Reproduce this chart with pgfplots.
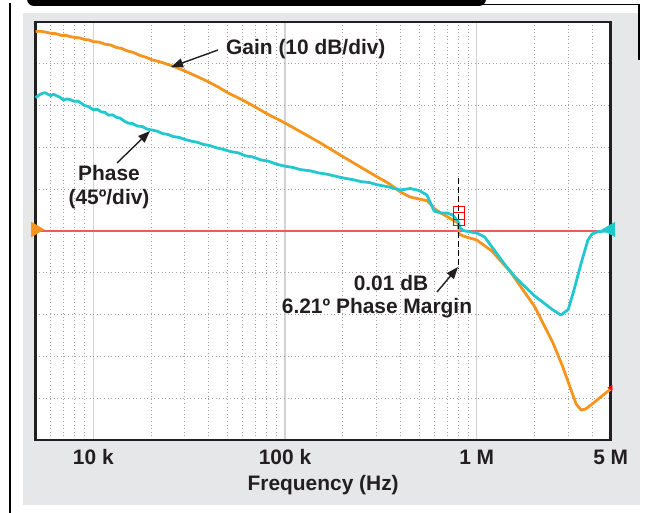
\documentclass[border=0pt]{standalone}
\usepackage{pgfplots}
\pgfplotsset{compat=1.18}
\usepackage{fontspec}
\setmainfont{Liberation Sans}
\usetikzlibrary{arrows.meta}
\definecolor{gainc}{HTML}{F7941D}
\definecolor{phasec}{HTML}{22C8CE}
\definecolor{redl}{HTML}{F15A5A}
\definecolor{panel}{HTML}{E6E7E8}
\definecolor{ink}{HTML}{231F20}
\definecolor{gridc}{HTML}{9FA1A4}
\definecolor{decc}{HTML}{D0D2D3}
\newcommand{\lbl}{\fontsize{21}{25}\selectfont\bfseries}

\pgfplotstableread{
f g
5000 4.773
5300 4.78
5600 4.76
6000 4.73
6400 4.72
6800 4.68
7200 4.68
7600 4.65
8000 4.63
8500 4.62
9000 4.58
9500 4.57
10000 4.53
10700 4.52
11500 4.47
12300 4.45
13200 4.39
14000 4.37
15000 4.31
16200 4.27
17500 4.20
19000 4.15
20000 4.103
22500 4.04
25000 3.971
27500 3.90
30000 3.828
35000 3.69
40000 3.565
45000 3.44
50000 3.313
60000 3.134
70000 2.967
80000 2.811
100000 2.584
120000 2.380
150000 2.129
200000 1.782
250000 1.519
300000 1.304
350000 1.129
400000 0.933
450000 0.813
500000 0.766
550000 0.725
580000 0.622
600000 0.538
650000 0.431
700000 0.347
750000 0.263
800000 0.191
810000 -0.072
850000 -0.120
900000 -0.156
1000000 -0.215
1200000 -0.48
1500000 -0.98
2000000 -1.80
2500000 -2.679
2800000 -3.23
3000000 -3.612
3300000 -4.139
3500000 -4.282
3700000 -4.258
4000000 -4.139
4500000 -3.947
5000000 -3.780
}\gaintable

\pgfplotstableread{
f p
5000 3.19
5200 3.25
5400 3.29
5600 3.31
5800 3.27
6000 3.24
6200 3.27
6400 3.24
6700 3.20
7000 3.13
7300 3.16
7600 3.14
8000 3.10
8300 3.11
8700 3.05
9000 3.00
9400 2.98
10000 2.90
10500 2.91
11000 2.85
11500 2.84
12000 2.77
12600 2.78
13200 2.72
13800 2.70
14500 2.63
15200 2.58
16000 2.57
17000 2.51
18000 2.50
19000 2.44
20000 2.42
21500 2.39
23000 2.33
24500 2.31
26000 2.26
28000 2.24
30000 2.19
32500 2.15
35000 2.12
37500 2.07
40000 2.05
44000 1.99
48000 1.95
52000 1.90
57000 1.87
62000 1.80
68000 1.77
75000 1.70
82000 1.67
90000 1.60
100000 1.55
110000 1.52
120000 1.47
135000 1.44
150000 1.39
165000 1.36
180000 1.32
200000 1.27
225000 1.23
250000 1.18
275000 1.16
300000 1.11
350000 1.05
400000 0.981
450000 1.017
500000 0.969
550000 0.861
580000 0.622
600000 0.478
650000 0.431
700000 0.431
750000 0.383
800000 0.215
820000 0.072
850000 0.012
900000 -0.012
1000000 -0.048
1100000 -0.144
1200000 -0.38
1400000 -0.80
1600000 -1.12
2000000 -1.55
2500000 -1.890
2750000 -2.010
3000000 -1.88
3200000 -1.45
3500000 -0.78
3800000 -0.22
4000000 -0.07
4300000 -0.012
5000000 0
}\phasetable

\begin{document}
\begin{tikzpicture}[x=1bp,y=1bp]
\path[use as bounding box] (0,0) rectangle (651,-513);
\fill[white] (0,0) rectangle (651,-513);
\fill[panel] (23,-13) rectangle (640,-505);
\fill[black,rounded corners=7bp] (27,12) -- (27,-6) -- (486,-6) -- (486,12) -- cycle;
\draw[line width=1.1bp] (480,-4.5) -- (639,-4.5) -- (639,-60);
\draw[line width=1.1bp] (10,-3) -- (10,-513);

\begin{axis}[
  at={(35.6bp,-440bp)}, anchor=south west, scale only axis,
  width=575.1bp, height=418bp,
  xmode=log, xmin=5000, xmax=5000000, ymin=-5, ymax=5,
  axis background/.style={fill=white},
  xtick={10000,100000,1000000,5000000},
  xticklabels={10 k,100 k,1 M,5 M},
  minor xtick={6000,7000,8000,9000,20000,30000,40000,50000,60000,70000,80000,90000,200000,300000,400000,500000,600000,700000,800000,900000,2000000,3000000,4000000},
  ytick={-4,-3,-2,-1,1,2,3,4}, yticklabels={},
  xmajorgrids, xminorgrids, ymajorgrids,
  major x grid style={color=decc, line width=1.3bp, solid},
  minor x grid style={color=gridc, line width=0.9bp, dash pattern=on 1bp off 2.6bp},
  major y grid style={color=gridc, line width=0.9bp, dash pattern=on 1bp off 2.6bp},
  major tick length=0pt, minor tick length=0pt,
  axis line style={line width=2.6bp, color=ink},
  xticklabel style={font=\lbl, text=ink, anchor=base, yshift=-24bp},
  xlabel={Frequency (Hz)},
  xlabel style={font=\lbl, text=ink, at={(axis description cs:0.5,0)}, anchor=base, yshift=-50bp},
  clip=false,
]
\addplot[redl, line width=1.6bp] coordinates {(5000,0) (5000000,0)};
\addplot[gainc, line width=2.8bp, line join=round] table[x=f, y=g] {\gaintable};
\addplot[phasec, line width=2.8bp, line join=round] table[x=f, y=p] {\phasetable};
\addplot[black, line width=1.4bp, dash pattern=on 6bp off 3bp] coordinates {(805000,1.27) (805000,-0.89)};
\addplot[only marks, mark=square, mark size=3.2bp, red, line width=0.8bp, mark options={xscale=1.7}] coordinates {(805000,0.52) (805000,0.36) (805000,0.20)};
\addplot[only marks, mark=triangle*, mark size=8.5bp, gainc, mark options={rotate=-90, xshift=-1.5bp}] coordinates {(5000,0)};
\addplot[only marks, mark=triangle*, mark size=8.5bp, phasec, mark options={rotate=90, xshift=1.5bp}] coordinates {(5000000,0)};
\addplot[only marks, mark=triangle*, mark size=3bp, red, mark options={rotate=90}] coordinates {(5000000,-3.75)};
\end{axis}

\node[anchor=west, font=\lbl, text=ink, inner sep=0] at (226,-49) {Gain (10 dB/div)};
\draw[-{Triangle[length=12bp,width=9bp]}, line width=1.4bp, ink] (218,-50) -- (171,-67);
\node[align=center, font=\lbl, text=ink, inner sep=0] at (109,-187) {Phase\\[-1bp](45º/div)};
\draw[-{Triangle[length=12bp,width=9bp]}, line width=1.4bp, ink] (117,-163) -- (150,-131);
\node[font=\lbl, text=ink, inner sep=0] at (391,-283) {0.01 dB};
\node[font=\lbl, text=ink, inner sep=0] at (377,-308) {6.21º Phase Margin};
\draw[-{Triangle[length=12bp,width=9bp]}, line width=1.4bp, ink] (437,-292) -- (458,-267);
\end{tikzpicture}
\end{document}
